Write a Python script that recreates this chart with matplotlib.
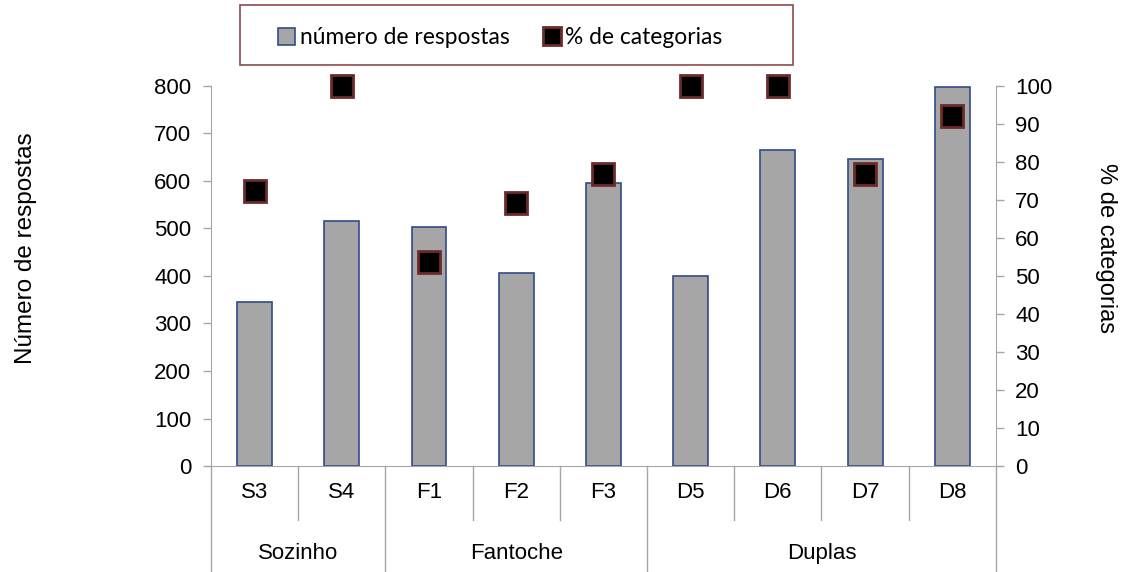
import matplotlib.pyplot as plt
from matplotlib import font_manager
from matplotlib.lines import Line2D
from matplotlib.patches import Patch, Rectangle
import numpy as np

# Data
categorias = ['S3', 'S4', 'F1', 'F2', 'F3', 'D5', 'D6', 'D7', 'D8']
grupos = ['Sozinho', 'Fantoche', 'Duplas']
tamanho_grupos = [2, 3, 4]
respostas = [345, 515, 503, 407, 595, 400, 665, 647, 797]
perc_categorias = [72.4, 100, 53.7, 69.2, 76.8, 100, 100, 76.8, 92.1]

# fonts
names = {f.name for f in font_manager.fontManager.ttflist}
narrow = 'Liberation Sans Narrow' if 'Liberation Sans Narrow' in names else 'Liberation Sans'
legend_font = 'Lato' if 'Lato' in names else 'DejaVu Sans'
plt.rcParams['font.family'] = [narrow, 'DejaVu Sans']

grey_axis = '#a6a6a6'

fig = plt.figure(figsize=(11.22, 5.72), dpi=100)
ax = fig.add_axes([0.1880, 0.1853, 0.6996, 0.6644])
ax2 = ax.twinx()

x = np.arange(len(categorias))
ax.bar(x, respostas, width=0.4, color='#a6a6a6', edgecolor='#2f4b8a', linewidth=1.2, zorder=2)
ax2.plot(x, perc_categorias, linestyle='none', marker='s', markersize=15.5, clip_on=False,
         markerfacecolor='black', markeredgecolor='#6e2a2a', markeredgewidth=2, zorder=3)

ax.set_xlim(-0.5, len(categorias) - 0.5)
ax.set_ylim(0, 800)
ax2.set_ylim(0, 100)
ax.set_yticks(range(0, 801, 100))
ax2.set_yticks(range(0, 101, 10))

for a in (ax, ax2):
    for s in a.spines.values():
        s.set_visible(False)
    a.tick_params(axis='y', length=6, width=1, color=grey_axis, labelsize=16, pad=8)

ax.spines['left'].set_visible(True)
ax.spines['left'].set_color(grey_axis)
ax2.spines['right'].set_visible(True)
ax2.spines['right'].set_color(grey_axis)
ax.spines['bottom'].set_visible(True)
ax.spines['bottom'].set_color(grey_axis)
ax.spines['bottom'].set_bounds(-0.56, len(categorias) - 0.44)

ax.set_xticks([])
trans = ax.get_xaxis_transform()

# first level labels and separators
for i, c in enumerate(categorias):
    ax.text(i, -0.07, c, transform=trans, ha='center', va='center', fontsize=16)

fronteiras = np.cumsum([0] + tamanho_grupos) - 0.5
for b in np.arange(-0.5, len(categorias)):
    if np.any(np.isclose(b, fronteiras)):
        ax.plot([b, b], [0, -0.285], transform=trans, color=grey_axis, lw=1, clip_on=False)
    else:
        ax.plot([b, b], [0, -0.142], transform=trans, color=grey_axis, lw=1, clip_on=False)

# second level labels
for g, a0, a1 in zip(grupos, fronteiras[:-1], fronteiras[1:]):
    ax.text((a0 + a1) / 2, -0.23, g, transform=trans, ha='center', va='center', fontsize=16)

ax.set_ylabel('Número de respostas', fontsize=17.5, fontfamily='Liberation Sans')
ax.yaxis.set_label_coords(-0.221, 0.574)
ax2.set_ylabel('% de categorias', fontsize=17, fontfamily='Liberation Sans', rotation=270,
               va='center')
ax2.yaxis.set_label_coords(1.14, 0.574)

# legend box (text sits left-aligned inside, like the original)
fig.patches.append(Rectangle((0.2139, 0.8864), 0.4929, 0.1049, transform=fig.transFigure,
                             facecolor='white', edgecolor='#8b4a4a', linewidth=1.2))
handles = [Patch(facecolor='#a6a6a6', edgecolor='#2f4b8a', linewidth=1.2),
           Line2D([], [], linestyle='none', marker='s', markersize=13,
                  markerfacecolor='black', markeredgecolor='#6e2a2a', markeredgewidth=2)]
leg = fig.legend(handles, ['número de respostas', '% de categorias'], ncol=2,
                 loc='center left', bbox_to_anchor=(278 / 1122, 1 - 38 / 572), frameon=False,
                 prop={'family': legend_font, 'size': 16.4}, handlelength=0.75, handleheight=0.75,
                 handletextpad=0.2, columnspacing=1.5, borderpad=0, borderaxespad=0)

fig.savefig('out.png', dpi=100)
